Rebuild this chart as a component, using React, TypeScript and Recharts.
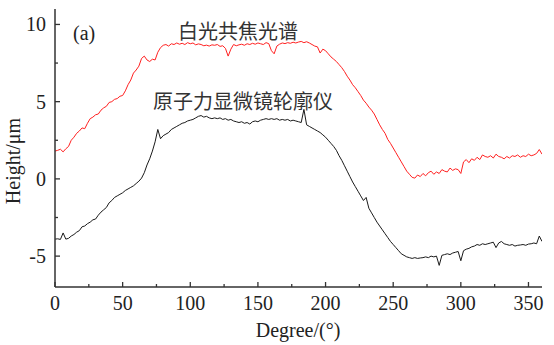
import React from 'react';
import { ComposedChart, Line, XAxis, YAxis, Customized } from 'recharts';

// Sampling step of the profile (degrees)
const STEP = 2;

// White-light confocal spectroscopy profile (red), µm, 0..360° every 2°
const confocalValues = [
  1.80, 1.85, 1.92, 1.75, 1.95, 2.10, 2.50, 2.70, 2.95, 3.10,
  3.30, 3.25, 3.60, 3.90, 4.00, 4.15, 4.20, 4.45, 4.60, 4.70,
  4.95, 5.00, 5.15, 5.20, 5.35, 5.40, 5.70, 6.10, 6.40, 6.85,
  7.05, 7.30, 7.80, 7.95, 7.70, 7.60, 7.75, 7.70, 8.20, 8.50,
  8.65, 8.70, 8.60, 8.75, 8.70, 8.80, 8.72, 8.78, 8.70, 8.82,
  8.75, 8.80, 8.68, 8.74, 8.70, 8.62, 8.66, 8.60, 8.68, 8.65,
  8.70, 8.58, 8.62, 8.45, 7.95, 8.40, 8.70, 8.62, 8.68, 8.72,
  8.65, 8.75, 8.70, 8.78, 8.72, 8.80, 8.75, 8.70, 8.82, 8.76,
  8.30, 8.10, 8.60, 8.72, 8.80, 8.76, 8.82, 8.78, 8.85, 8.80,
  8.86, 8.90, 8.82, 8.88, 8.80, 8.70, 8.60, 8.55, 8.15, 8.40,
  8.30, 8.10, 7.90, 7.75, 7.60, 7.40, 7.20, 6.95, 6.65, 6.40,
  6.10, 5.90, 5.65, 5.40, 5.10, 4.90, 4.65, 4.45, 4.20, 3.85,
  3.50, 3.20, 2.95, 2.55, 2.30, 2.00, 1.70, 1.40, 1.10, 0.80,
  0.50, 0.30, 0.10, 0.05, 0.25, 0.15, 0.35, 0.20, 0.40, 0.50,
  0.30, 0.45, 0.35, 0.60, 0.50, 0.45, 0.70, 0.55, 0.65, 0.60,
  0.35, 1.10, 1.25, 1.05, 1.30, 1.20, 1.40, 1.25, 1.55, 1.45,
  1.40, 1.50, 1.35, 1.60, 1.45, 1.40, 1.30, 1.45, 1.35, 1.50,
  1.45, 1.55, 1.40, 1.50, 1.45, 1.60, 1.50, 1.55, 1.65, 1.90,
  1.60,
];

// Atomic force microscope profile (black), µm, 0..360° every 2°
const afmValues = [
  -3.90, -3.88, -3.92, -3.50, -3.90, -3.85, -3.70, -3.60, -3.45, -3.35,
  -3.10, -3.05, -2.90, -2.80, -2.65, -2.60, -2.35, -2.15, -2.00, -1.85,
  -1.55, -1.40, -1.20, -1.10, -1.00, -0.90, -0.75, -0.65, -0.55, -0.45,
  -0.30, -0.15, 0.05, 0.40, 0.90, 1.30, 1.80, 2.40, 3.20, 2.60,
  2.80, 2.90, 3.00, 3.20, 3.30, 3.40, 3.50, 3.60, 3.65, 3.75,
  3.80, 3.85, 3.95, 4.05, 4.10, 4.00, 4.05, 3.95, 3.90, 3.95,
  3.90, 3.95, 3.85, 3.90, 3.80, 3.85, 3.75, 3.70, 3.65, 3.70,
  3.60, 3.65, 3.55, 3.70, 3.75, 3.70, 3.80, 3.85, 3.90, 3.85,
  3.90, 3.85, 3.90, 3.80, 3.85, 3.80, 3.85, 3.75, 3.80, 3.75,
  3.70, 3.65, 4.50, 3.50, 3.40, 3.30, 3.20, 3.10, 3.00, 2.85,
  2.70, 2.50, 2.30, 2.10, 1.85, 1.50, 1.20, 0.85, 0.50, 0.15,
  -0.20, -0.50, -0.80, -1.10, -1.40, -1.20, -1.90, -2.20, -2.50, -2.80,
  -3.05, -3.30, -3.55, -3.80, -4.05, -4.25, -4.45, -4.65, -4.85, -4.95,
  -5.05, -5.10, -5.15, -5.10, -5.15, -5.12, -5.10, -5.05, -5.10, -5.00,
  -5.05, -5.00, -5.60, -4.95, -4.90, -4.85, -4.90, -4.80, -4.75, -4.70,
  -5.30, -4.65, -4.55, -4.50, -4.40, -4.35, -4.25, -4.30, -4.20, -4.25,
  -4.20, -4.15, -4.10, -4.45, -4.15, -4.05, -4.20, -4.25, -4.30, -4.25,
  -4.35, -4.30, -4.28, -4.25, -4.30, -4.22, -4.20, -4.15, -4.20, -3.70,
  -4.05,
];

const xTicks = [0, 25, 50, 75, 100, 125, 150, 175, 200, 225, 250, 275, 300, 325, 350];
const xLabeledTicks = [0, 50, 100, 150, 200, 250, 300, 350];
const yTicks = [-5, -2.5, 0, 2.5, 5, 7.5, 10];
const yLabeledTicks = [-5, 0, 5, 10];

const panelLabel = '(a)';
const confocalLabel = '白光共焦光谱';
const afmLabel = '原子力显微镜轮廓仪';
const xAxisTitle = 'Degree/(°)';
const yAxisTitle = 'Height/μm';

const data = confocalValues.map((v, i) => ({
  deg: i * STEP,
  confocal: v,
  afm: afmValues[i],
}));

const SERIF = '"Liberation Serif", "Times New Roman", serif';
const CJK = '"Noto Sans CJK SC", sans-serif';
const AXIS_COLOR = '#333';
const TEXT_COLOR = '#222';

const MAJOR = 5;
const MINOR = 3;

const BottomTick = (props: any) => {
  const { x, y, payload } = props;
  const major = xLabeledTicks.includes(payload.value);
  return (
    <g>
      <line x1={x} x2={x} y1={y} y2={y - (major ? MAJOR : MINOR)} stroke={AXIS_COLOR} strokeWidth={1.3} />
      {major && (
        <text x={x} y={y + 23} textAnchor="middle" fontFamily={SERIF} fontSize={20} fill={TEXT_COLOR}>
          {payload.value}
        </text>
      )}
    </g>
  );
};

const TopTick = (props: any) => {
  const { x, y, payload } = props;
  const major = xLabeledTicks.includes(payload.value);
  return <line x1={x} x2={x} y1={y} y2={y + (major ? MAJOR : MINOR)} stroke={AXIS_COLOR} strokeWidth={1.3} />;
};

const LeftTick = (props: any) => {
  const { x, y, payload } = props;
  const major = yLabeledTicks.includes(payload.value);
  return (
    <g>
      <line x1={x} x2={x + (major ? MAJOR : MINOR)} y1={y} y2={y} stroke={AXIS_COLOR} strokeWidth={1.3} />
      {major && (
        <text x={x - 9} y={y} dy="0.35em" textAnchor="end" fontFamily={SERIF} fontSize={20} fill={TEXT_COLOR}>
          {payload.value}
        </text>
      )}
    </g>
  );
};

const RightTick = (props: any) => {
  const { x, y, payload } = props;
  const major = yLabeledTicks.includes(payload.value);
  return <line x1={x} x2={x - (major ? MAJOR : MINOR)} y1={y} y2={y} stroke={AXIS_COLOR} strokeWidth={1.3} />;
};

const Annotations = () => (
  <g>
    <text x={73} y={40} fontFamily={SERIF} fontSize={20} fill={TEXT_COLOR}>
      {panelLabel}
    </text>
    <text x={178} y={32} dy="0.35em" fontFamily={CJK} fontSize={20} fill="#333">
      {confocalLabel}
    </text>
    <text x={153} y={102} dy="0.35em" fontFamily={CJK} fontSize={20} fill="#333">
      {afmLabel}
    </text>
    <text x={298} y={337} textAnchor="middle" fontFamily={SERIF} fontSize={20} fill={TEXT_COLOR}>
      {xAxisTitle}
    </text>
    <text
      x={13}
      y={161}
      dy="0.35em"
      textAnchor="middle"
      transform="rotate(-90 13 161)"
      fontFamily={SERIF}
      fontSize={20}
      fill={TEXT_COLOR}
    >
      {yAxisTitle}
    </text>
  </g>
);

export default function App() {
  return (
    <div style={{ position: 'absolute', left: 0, top: 0, width: 554, height: 345, background: '#fff' }}>
      <ComposedChart width={554} height={345} data={data} margin={{ top: 9, right: 12, left: 0, bottom: 0 }}>
        <XAxis
          xAxisId="b"
          dataKey="deg"
          type="number"
          domain={[0, 360]}
          ticks={xTicks}
          interval={0}
          height={58}
          tickSize={0}
          tickMargin={0}
          tickLine={false}
          axisLine={{ stroke: AXIS_COLOR, strokeWidth: 1.5 }}
          tick={<BottomTick />}
          allowDataOverflow
        />
        <XAxis
          xAxisId="t"
          orientation="top"
          dataKey="deg"
          type="number"
          domain={[0, 360]}
          ticks={xTicks}
          interval={0}
          height={0}
          tickSize={0}
          tickMargin={0}
          tickLine={false}
          axisLine={{ stroke: AXIS_COLOR, strokeWidth: 1.5 }}
          tick={<TopTick />}
          allowDataOverflow
        />
        <YAxis
          yAxisId="l"
          type="number"
          domain={[-7, 11]}
          ticks={yTicks}
          interval={0}
          width={55}
          tickSize={0}
          tickMargin={0}
          tickLine={false}
          axisLine={{ stroke: AXIS_COLOR, strokeWidth: 1.5 }}
          tick={<LeftTick />}
          allowDataOverflow
        />
        <YAxis
          yAxisId="r"
          orientation="right"
          type="number"
          domain={[-7, 11]}
          ticks={yTicks}
          interval={0}
          width={0}
          tickSize={0}
          tickMargin={0}
          tickLine={false}
          axisLine={{ stroke: AXIS_COLOR, strokeWidth: 1.5 }}
          tick={<RightTick />}
          allowDataOverflow
        />
        <Line
          xAxisId="b"
          yAxisId="l"
          type="linear"
          dataKey="confocal"
          stroke="#ff2020"
          strokeWidth={1}
          dot={false}
          isAnimationActive={false}
        />
        <Line
          xAxisId="b"
          yAxisId="l"
          type="linear"
          dataKey="afm"
          stroke="#1a1a1a"
          strokeWidth={1}
          dot={false}
          isAnimationActive={false}
        />
        <Customized component={<Annotations />} />
      </ComposedChart>
    </div>
  );
}
